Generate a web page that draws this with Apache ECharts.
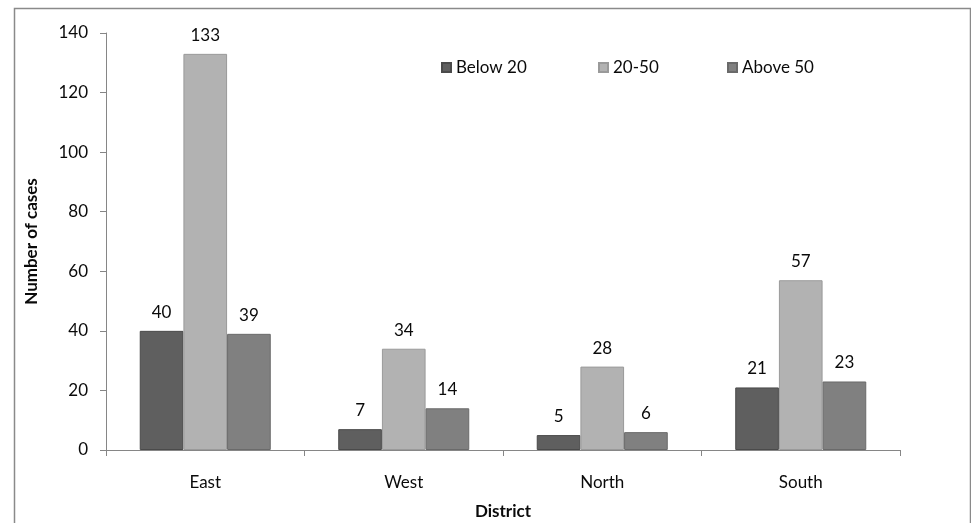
<!DOCTYPE html>
<html>
<head>
<meta charset="utf-8">
<script src="https://cdn.jsdelivr.net/npm/echarts@6/dist/echarts.min.js"></script>
<style>html,body{margin:0;padding:0;background:#fff;overflow:hidden;}#c{width:971px;height:523px;}</style>
</head>
<body>
<div id="c"></div>
<script>
var categories = ['East', 'West', 'North', 'South'];
var seriesNames = ['Below 20', '20-50', 'Above 50'];
var below20 = [40, 7, 5, 21];
var mid2050 = [133, 34, 28, 57];
var above50 = [39, 14, 6, 23];
var yTicks = [0, 20, 40, 60, 80, 100, 120, 140];

var FONT = 'Lato';
var fills = ['#5f5f5f', '#b2b2b2', '#808080'];
var borders = ['#4a4a4a', '#9a9a9a', '#6a6a6a'];
var values = [below20, mid2050, above50];

var chart = echarts.init(document.getElementById('c'), null, {renderer: 'canvas', width: 971, height: 523});
var series = values.map(function (v, i) {
  return {
    name: seriesNames[i],
    type: 'bar',
    data: v,
    barGap: '0%',
    barCategoryGap: '34%',
    itemStyle: {color: fills[i], borderColor: borders[i], borderWidth: 1},
    label: {show: true, position: 'top', distance: 10, color: '#0a0a0a', fontFamily: FONT, fontSize: 17},
    emphasis: {disabled: true}
  };
});
var legendLefts = [436, 593, 722];
chart.setOption({
  animation: false,
  textStyle: {fontFamily: FONT},
  grid: {left: 106, right: 71, top: 33, bottom: 73, containLabel: false, outerBoundsMode: 'none'},
  legend: seriesNames.map(function (n, i) {
    return {
      data: [n], left: legendLefts[i], top: 54, itemWidth: 9, itemHeight: 9, itemGap: 5,
      icon: 'rect', selectedMode: false,
      textStyle: {fontFamily: FONT, fontSize: 17, color: '#0a0a0a', padding: [0, 0, 0, 0]}
    };
  }),
  xAxis: {
    type: 'category', data: categories,
    name: 'District', nameLocation: 'middle', nameGap: 53,
    nameTextStyle: {fontFamily: FONT, fontSize: 17, fontWeight: 'bold', color: '#0a0a0a'},
    axisLine: {lineStyle: {color: '#868686', width: 1}},
    axisTick: {show: true, length: 6, alignWithLabel: false, lineStyle: {color: '#868686'}},
    axisLabel: {fontFamily: FONT, fontSize: 17, color: '#0a0a0a', margin: 24},
    splitLine: {show: false}
  },
  yAxis: {
    type: 'value', min: yTicks[0], max: yTicks[yTicks.length - 1], interval: 20,
    name: 'Number of cases', nameLocation: 'middle', nameGap: 66, nameRotate: 90,
    nameTextStyle: {fontFamily: FONT, fontSize: 17, fontWeight: 'bold', color: '#0a0a0a'},
    axisLine: {show: true, lineStyle: {color: '#868686', width: 1}},
    axisTick: {show: true, length: 6, lineStyle: {color: '#868686'}},
    axisLabel: {fontFamily: FONT, fontSize: 17, color: '#0a0a0a', margin: 18},
    splitLine: {show: false}
  },
  graphic: [{
    type: 'rect', left: 12, top: 6, silent: true, z: -10,
    shape: {width: 956, height: 540},
    style: {fill: 'none', stroke: '#8a8a8a', lineWidth: 1.5}
  }],
  series: series
});
</script>
</body>
</html>
